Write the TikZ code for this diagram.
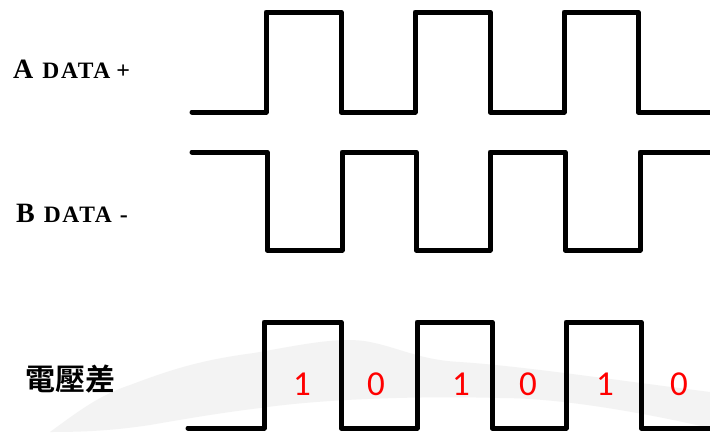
\documentclass[tikz,border=0pt]{standalone}
\usepackage{fontspec}
\setmainfont{Liberation Serif}
\newfontfamily\digitfont{Carlito}
\newfontfamily\cjk{Noto Sans CJK TC}[BoldFont={* Bold}]
\definecolor{wmgray}{HTML}{F3F3F3}
\definecolor{digitred}{HTML}{FF0000}
\begin{document}
\begin{tikzpicture}[x=1pt,y=-1pt,
  wave/.style={line width=5pt,line join=round,line cap=round,black},
  siglabel/.style={anchor=base west,inner sep=0pt,font=\bfseries},
  bitlabel/.style={anchor=center,inner sep=0pt,text=digitred,font=\digitfont\fontsize{35}{35}\selectfont}]
\useasboundingbox (0,0) rectangle (710,432);
\fill[white] (0,0) rectangle (710,432);
% faint background watermark
\fill[wmgray] (50,432) .. controls (80,410) and (100,395) .. (130,385)
  .. controls (170,370) and (200,360) .. (254,353)
  .. controls (300,345) and (340,336) .. (370,342)
  .. controls (400,348) and (420,360) .. (460,362)
  .. controls (520,366) and (600,378) .. (710,392)
  -- (710,428)
  .. controls (640,412) and (560,398) .. (500,398)
  .. controls (430,396) and (330,398) .. (260,408)
  .. controls (220,413) and (190,418) .. (150,425)
  .. controls (110,431) and (80,432) .. (50,432) -- cycle;
% A DATA +
\draw[wave] (192,112) -- (266,112) -- (266,12) -- (341,12) -- (341,112) -- (415,112) -- (415,12)
  -- (490,12) -- (490,112) -- (564,112) -- (564,12) -- (638,12) -- (638,112) -- (712,112);
% B DATA -
\draw[wave] (192,152) -- (267,152) -- (267,250) -- (342,250) -- (342,152) -- (416,152) -- (416,250)
  -- (490,250) -- (490,152) -- (565,152) -- (565,250) -- (640,250) -- (640,152) -- (712,152);
% difference
\draw[wave] (188,428) -- (264,428) -- (264,322) -- (341,322) -- (341,428) -- (417,428) -- (417,322)
  -- (492,322) -- (492,428) -- (566,428) -- (566,322) -- (641,322) -- (641,428) -- (712,428);
% labels
\node[siglabel] (la) at (13,78) {\fontsize{28}{28}\selectfont A\hspace{9pt}\fontsize{23.5}{23.5}\selectfont\addfontfeature{LetterSpace=7}DATA\hspace{6pt}\fontsize{24}{24}\selectfont +};
\node[siglabel] (lb) at (16,222) {\fontsize{28}{28}\selectfont B\hspace{9pt}\fontsize{23.5}{23.5}\selectfont\addfontfeature{LetterSpace=7}DATA\hspace{8pt}\fontsize{24}{24}\selectfont -};
\node[anchor=center,inner sep=0pt] (lc) at (70,379) {\cjk\bfseries\fontsize{30}{30}\selectfont 電壓差};
% bits
\node[bitlabel] (b1) at (302,384) {1};
\node[bitlabel] (b2) at (376,384) {0};
\node[bitlabel] (b3) at (461,384) {1};
\node[bitlabel] (b4) at (528,384) {0};
\node[bitlabel] (b5) at (605,384) {1};
\node[bitlabel] (b6) at (679,384) {0};
\end{tikzpicture}
\end{document}
